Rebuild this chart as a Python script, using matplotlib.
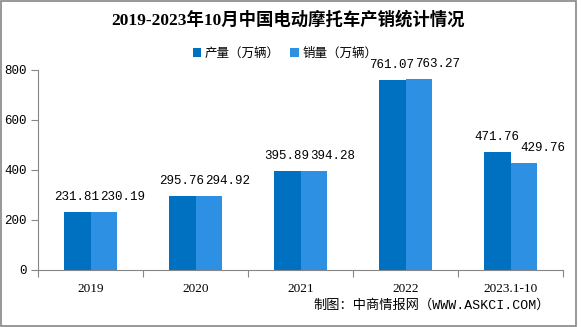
import matplotlib
matplotlib.use("Agg")
import matplotlib.pyplot as plt
import numpy as np

plt.rcParams['font.family'] = ['Noto Sans CJK SC', 'DejaVu Sans']

categories = ["2019", "2020", "2021", "2022", "2023.1-10"]
production = [231.81, 295.76, 395.89, 761.07, 471.76]
sales = [230.19, 294.92, 394.28, 763.27, 429.76]
yticks = [0, 200, 400, 600, 800]

c_prod = "#0070C0"
c_sales = "#2E90E2"
axis_gray = "#868686"

fig = plt.figure(figsize=(5.81, 3.27), dpi=100)
ax = fig.add_axes([38 / 581, 1 - 270 / 327, (563 - 38) / 581, 200 / 327])

x = np.arange(len(categories))
w = 0.257
ax.bar(x - w / 2, production, width=w, color=c_prod, label="产量（万辆）", zorder=2)
ax.bar(x + w / 2, sales, width=w, color=c_sales, label="销量（万辆）", zorder=2)

num_font = dict(family="Liberation Mono", fontsize=9)
for xi, p, s in zip(x, production, sales):
    ax.annotate(f"{p:.2f}", (xi - w / 2, p), xytext=(0, 15), textcoords="offset pixels",
                ha="center", va="center", annotation_clip=False, **num_font)
    ax.annotate(f"{s:.2f}", (xi + w / 2, s), xytext=(19, 15), textcoords="offset pixels",
                ha="center", va="center", annotation_clip=False, **num_font)

ax.set_xlim(-0.5, len(categories) - 0.5)
ax.set_ylim(0, 800)
ax.set_yticks(yticks)
ax.set_yticklabels([str(t) for t in yticks], **num_font)
ax.set_xticks(np.arange(len(categories) + 1) - 0.5, minor=False)
ax.set_xticklabels([])
ax.set_xticks(x, minor=True)
ax.set_xticklabels(categories, minor=True, family="Liberation Serif", fontsize=9.5)
ax.tick_params(axis="x", which="major", length=5, color=axis_gray, direction="out")
ax.tick_params(axis="x", which="minor", length=0, pad=9)
ax.tick_params(axis="y", length=5, color=axis_gray, pad=3)
for side in ("top", "right"):
    ax.spines[side].set_visible(False)
for side in ("left", "bottom"):
    ax.spines[side].set_color(axis_gray)

fig.text(288 / 581, 1 - 20 / 327, "2019-2023年10月中国电动摩托车产销统计情况",
         ha="center", va="center", fontsize=12.5, fontweight="bold",
         family=["Liberation Serif", "Noto Sans CJK SC"])
fig.legend(loc="center", bbox_to_anchor=(285 / 581, 1 - 53 / 327), ncol=2, frameon=False,
           fontsize=9, handlelength=0.7, handleheight=0.7, handletextpad=0.3, columnspacing=0.8)
fig.text(550 / 581, 1 - 305 / 327, "制图：中商情报网（WWW.ASKCI.COM）",
         ha="right", va="center", fontsize=9.5, family=["Liberation Mono", "Noto Sans CJK SC"])

# outer border
fig.patches.append(plt.Rectangle((0.002, 0.003), 0.99, 0.994, transform=fig.transFigure,
                                 fill=False, edgecolor=axis_gray, linewidth=1.2))

fig.savefig("out.png", dpi=100)
